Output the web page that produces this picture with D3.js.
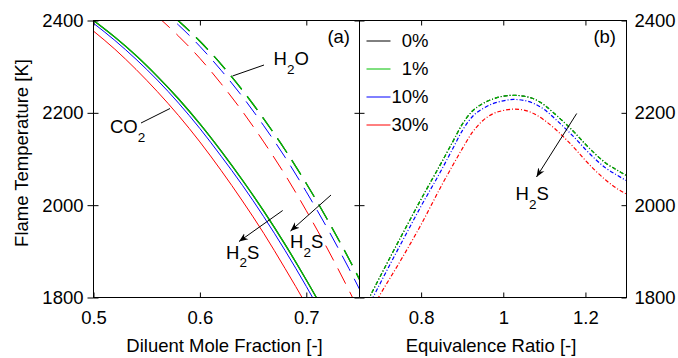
<!DOCTYPE html>
<html><head><meta charset="utf-8">
<script src="https://cdn.jsdelivr.net/npm/d3@7"></script>
<style>
body{margin:0;background:#fff}
text{font-family:"Liberation Sans",Arial,Helvetica,sans-serif;fill:#000}
</style>
</head><body>
<svg id="c" width="678" height="358"></svg>
<script>
// ---------- DATA ----------
const seriesNames  = ["0%", "1%", "10%", "30%"];
const seriesColors = ["#000000", "#00c000", "#0000ff", "#ff0000"];

// Panel (a): CO2 diluent (solid)
const co2X    = [0.50, 0.52, 0.54, 0.56, 0.58, 0.60, 0.62, 0.64, 0.66, 0.68, 0.70, 0.72];
const co2_0   = [2400, 2364, 2324, 2279, 2230, 2176, 2117, 2054, 1987, 1915, 1838, 1757];
const co2_1   = [2400, 2364, 2324, 2279, 2230, 2176, 2117, 2054, 1987, 1915, 1838, 1757];
const co2_10  = [2394, 2357, 2316, 2271, 2221, 2166, 2106, 2043, 1975, 1902, 1824, 1742];
const co2_30  = [2377, 2338, 2294, 2246, 2194, 2137, 2075, 2009, 1939, 1863, 1784, 1700];

// Panel (a): H2O diluent (dashed)
const h2oX    = [0.56, 0.58, 0.60, 0.62, 0.64, 0.66, 0.68, 0.70, 0.72, 0.74, 0.76];
const h2o_0   = [2438, 2399, 2355, 2305, 2249, 2187, 2120, 2047, 1968, 1884, 1793];
const h2o_1   = [2438, 2399, 2355, 2305, 2249, 2187, 2120, 2047, 1968, 1884, 1793];
const h2o_10  = [2429, 2390, 2344, 2292, 2235, 2172, 2104, 2029, 1949, 1863, 1772];
const h2o_30  = [2409, 2366, 2318, 2263, 2203, 2137, 2066, 1988, 1905, 1816, 1722];

// Panel (b): equivalence ratio (dash-dot)
const phiX    = [0.65, 0.70, 0.75, 0.80, 0.85, 0.875, 0.90, 0.925, 0.95, 0.975, 1.00, 1.025, 1.05, 1.075, 1.10, 1.125, 1.15, 1.175, 1.20, 1.225, 1.25, 1.275, 1.30];
const phi_0   = [1758, 1845, 1930, 2013, 2093, 2134, 2175, 2204, 2220, 2230, 2236, 2238, 2236, 2230, 2217, 2198, 2178, 2156, 2132, 2110, 2091, 2077, 2064];
const phi_1   = [1758, 1845, 1930, 2013, 2093, 2134, 2175, 2204, 2220, 2230, 2236, 2238, 2236, 2230, 2217, 2198, 2178, 2156, 2132, 2110, 2091, 2077, 2064];
const phi_10  = [1742, 1830, 1915, 1998, 2077, 2119, 2161, 2192, 2209, 2220, 2226, 2229, 2227, 2220, 2207, 2188, 2167, 2145, 2121, 2099, 2080, 2066, 2053];
const phi_30  = [1728, 1806, 1880, 1958, 2043, 2083, 2122, 2158, 2183, 2198, 2205, 2208, 2206, 2198, 2184, 2166, 2145, 2122, 2097, 2074, 2054, 2037, 2024];

const tempTicks = [1800, 2000, 2200, 2400];
const fracTicks = [0.5, 0.6, 0.7];
const phiTicks  = [0.8, 1.0, 1.2];

// ---------- DRAW ----------
const svg = d3.select("#c");
const FS = 18.5;
const yTop = 20.5, yBot = 297.5;
const aL = 93.5, aR = 359.5, bL = 359.5, bR = 626.5;

const y  = d3.scaleLinear().domain([1800, 2400]).range([yBot, yTop]);
const xA = d3.scaleLinear().domain([0.5, 0.75]).range([aL, aR]);
const xB = d3.scaleLinear().domain([0.65, 1.3]).range([bL, bR]);

const defs = svg.append("defs");
defs.append("clipPath").attr("id", "clipA").append("rect")
  .attr("x", aL).attr("y", yTop).attr("width", aR - aL).attr("height", yBot - yTop);
defs.append("clipPath").attr("id", "clipB").append("rect")
  .attr("x", bL).attr("y", yTop).attr("width", bR - bL).attr("height", yBot - yTop);
defs.append("marker").attr("id", "arr").attr("viewBox", "0 0 10 10")
  .attr("refX", 10).attr("refY", 5).attr("markerWidth", 9).attr("markerHeight", 9)
  .attr("markerUnits", "userSpaceOnUse").attr("orient", "auto")
  .append("path").attr("d", "M0,1 L10,5 L0,9 L3,5 Z").attr("fill", "#000");

const lineA = (xs) => d3.line().x((d, i) => xA(xs[i])).y(d => y(d)).curve(d3.curveMonotoneX);
const lineB = d3.line().x((d, i) => xB(phiX[i])).y(d => y(d)).curve(d3.curveMonotoneX);

const gA = svg.append("g").attr("clip-path", "url(#clipA)");
const gB = svg.append("g").attr("clip-path", "url(#clipB)");

const co2Sets = [co2_0, co2_1, co2_10, co2_30];
const h2oSets = [h2o_0, h2o_1, h2o_10, h2o_30];
const phiSets = [phi_0, phi_1, phi_10, phi_30];
const widths  = [1.2, 1.3, 1, 1];

// draw order: black, red, blue, green on top
[0, 3, 2, 1].forEach(k => {
  gA.append("path").attr("d", lineA(h2oX)(h2oSets[k])).attr("fill", "none")
    .attr("stroke", seriesColors[k]).attr("stroke-width", widths[k])
    .attr("stroke-dasharray", "17,9");
  gA.append("path").attr("d", lineA(co2X)(co2Sets[k])).attr("fill", "none")
    .attr("stroke", seriesColors[k]).attr("stroke-width", widths[k]);
  gB.append("path").attr("d", lineB(phiSets[k])).attr("fill", "none")
    .attr("stroke", seriesColors[k]).attr("stroke-width", 1.2)
    .attr("stroke-dasharray", "4,2,1,2");
});

// ---------- AXES ----------
const fmtT = d3.format("d");
const fmtX = d3.format("");
function clean(g) { g.select(".domain").remove(); g.selectAll("text").style("font-size", FS + "px").attr("font-family", null); }

svg.append("g").attr("transform", `translate(0,${yBot})`)
  .call(d3.axisBottom(xA).tickValues(fracTicks).tickSize(-5).tickPadding(13).tickFormat(fmtX))
  .call(clean);
svg.append("g").attr("transform", `translate(0,${yTop})`)
  .call(d3.axisTop(xA).tickValues(fracTicks).tickSize(-5).tickFormat(""))
  .call(clean);
svg.append("g").attr("transform", `translate(0,${yBot})`)
  .call(d3.axisBottom(xB).tickValues(phiTicks).tickSize(-5).tickPadding(13).tickFormat(fmtX))
  .call(clean);
svg.append("g").attr("transform", `translate(0,${yTop})`)
  .call(d3.axisTop(xB).tickValues(phiTicks).tickSize(-5).tickFormat(""))
  .call(clean);
svg.append("g").attr("transform", `translate(${aL},0)`)
  .call(d3.axisLeft(y).tickValues(tempTicks).tickSize(6).tickPadding(4).tickFormat(fmtT))
  .call(clean);
svg.append("g").attr("transform", `translate(${aL},0)`)
  .call(d3.axisLeft(y).tickValues(tempTicks).tickSize(-5).tickFormat(""))
  .call(clean);
svg.append("g").attr("transform", `translate(${aR},0)`)
  .call(d3.axisRight(y).tickValues(tempTicks).tickSize(-5).tickFormat(""))
  .call(clean);
svg.append("g").attr("transform", `translate(${bL},0)`)
  .call(d3.axisLeft(y).tickValues(tempTicks).tickSize(-5).tickFormat(""))
  .call(clean);
svg.append("g").attr("transform", `translate(${bR},0)`)
  .call(d3.axisRight(y).tickValues(tempTicks).tickSize(-5).tickPadding(8).tickFormat(fmtT))
  .call(clean);

// Frames
svg.append("rect").attr("x", aL).attr("y", yTop).attr("width", aR - aL).attr("height", yBot - yTop)
  .attr("fill", "none").attr("stroke", "#000").attr("stroke-width", 1);
svg.append("rect").attr("x", bL).attr("y", yTop).attr("width", bR - bL).attr("height", yBot - yTop)
  .attr("fill", "none").attr("stroke", "#000").attr("stroke-width", 1);

// Axis titles
svg.append("text").attr("x", 224.5).attr("y", 351.5).attr("text-anchor", "middle")
  .style("font-size", FS + "px").text("Diluent Mole Fraction [-]");
svg.append("text").attr("x", 491).attr("y", 351.5).attr("text-anchor", "middle")
  .style("font-size", FS + "px").text("Equivalence Ratio [-]");
svg.append("text").attr("transform", "translate(27.5,153) rotate(-90)").attr("text-anchor", "middle")
  .style("font-size", FS + "px").text("Flame Temperature [K]");

// Panel labels
svg.append("text").attr("x", 350).attr("y", 43).attr("text-anchor", "end").style("font-size", FS + "px").text("(a)");
svg.append("text").attr("x", 616).attr("y", 43).attr("text-anchor", "end").style("font-size", FS + "px").text("(b)");

// Legend
const legY = [41, 69, 97, 125];
seriesNames.forEach((n, i) => {
  svg.append("line").attr("x1", 366.5).attr("x2", 390.5).attr("y1", legY[i]).attr("y2", legY[i])
    .attr("stroke", seriesColors[i]).attr("stroke-width", 1);
  svg.append("text").attr("x", 428.5).attr("y", legY[i] + 6.2).attr("text-anchor", "end")
    .style("font-size", FS + "px").text(n);
});

// Subscripted labels
function chem(x, yb, a, sub, b) {
  const t = svg.append("text").attr("x", x).attr("y", yb).style("font-size", FS + "px");
  t.append("tspan").text(a);
  t.append("tspan").attr("dy", 8.5).style("font-size", "13.5px").text(sub);
  t.append("tspan").attr("dy", -8.5).text(b);
}
chem(110, 133, "CO", "2", "");
chem(273.5, 65, "H", "2", "O");
chem(226, 258.5, "H", "2", "S");
chem(290, 248, "H", "2", "S");
chem(515.5, 200, "H", "2", "S");

// Connectors
svg.append("line").attr("x1", 141).attr("y1", 123).attr("x2", 170).attr("y2", 108.5).attr("stroke", "#000");
svg.append("line").attr("x1", 264).attr("y1", 65).attr("x2", 232.5).attr("y2", 76).attr("stroke", "#000");

// Arrows
[[282.7, 210.5, 239, 241.5], [331, 195, 290.5, 231], [576.7, 113.5, 536.5, 177]].forEach(a => {
  svg.append("line").attr("x1", a[0]).attr("y1", a[1]).attr("x2", a[2]).attr("y2", a[3])
    .attr("stroke", "#000").attr("stroke-width", 1).attr("marker-end", "url(#arr)");
});
</script>
</body></html>
